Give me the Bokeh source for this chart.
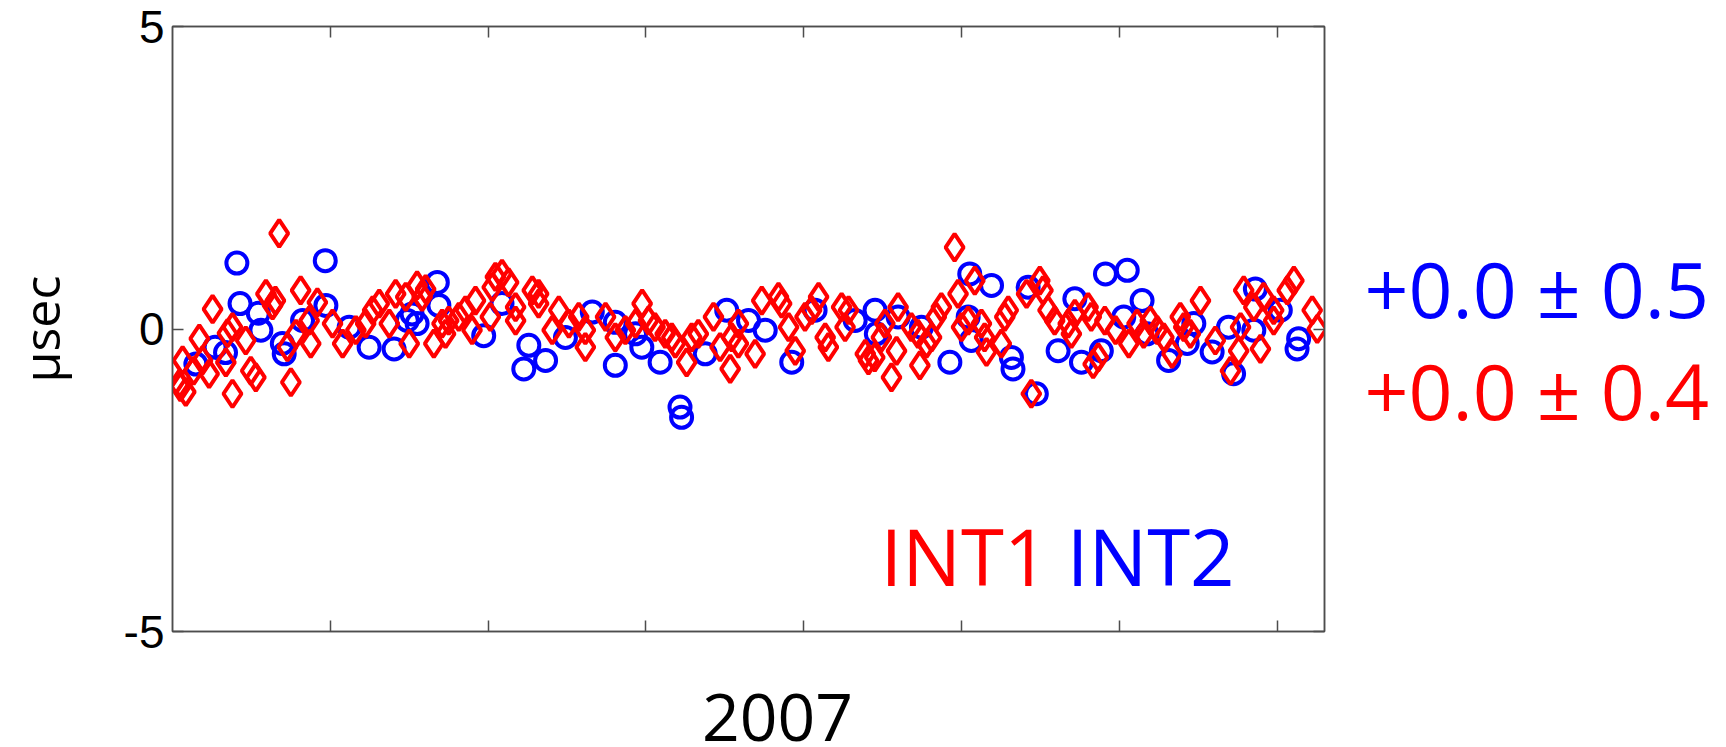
from bokeh.plotting import figure
from bokeh.models import LinearAxis, FixedTicker, Label, Range1d
from bokeh.layouts import row, column
from bokeh.embed import file_html
from bokeh.resources import INLINE

# ---- data (day of year 2007, offset in microseconds) ----
int2_day = [7.4, 13.5, 16.8, 20.4, 21.4, 27.2, 28.0, 34.8, 35.4, 41.2,
            48.4, 48.6, 56.0, 62.3, 70.2, 74.4, 75.9, 77.5, 83.9, 84.4,
            98.6, 104.4, 111.3, 112.9, 118.2, 124.5, 133.0, 140.3, 140.3, 146.7,
            148.7, 154.5, 160.8, 161.3, 168.8, 175.6, 182.5, 187.8, 196.2, 203.6,
            216.3, 222.6, 223.0, 229.9, 237.3, 246.3, 252.1, 252.6, 253.1, 259.5,
            265.8, 266.3, 271.1, 273.7, 280.6, 285.9, 288.0, 294.3, 295.6, 301.4,
            302.5, 307.2, 308.8, 315.6, 321.5, 323.6, 329.4, 334.6, 336.2, 342.6,
            343.1, 351.0, 356.3, 356.8]
int2_val = [-0.58, -0.30, -0.39, 1.09, 0.42, 0.26, -0.02, -0.24, -0.41, 0.14,
            1.13, 0.39, 0.03, -0.30, -0.33, 0.14, 0.25, 0.09, 0.77, 0.39,
            -0.11, 0.42, -0.66, -0.27, -0.52, -0.14, 0.28, 0.11, -0.60, -0.08,
            -0.30, -0.55, -1.29, -1.46, -0.41, 0.31, 0.14, -0.02, -0.55, 0.31,
            0.14, 0.31, -0.08, 0.20, 0.03, -0.55, 0.20, 0.91, -0.19, 0.72,
            -0.47, -0.66, 0.69, -1.07, -0.36, 0.50, -0.55, -0.36, 0.91, 0.20,
            0.97, 0.47, -0.08, -0.52, -0.24, 0.09, -0.38, 0.03, -0.74, -0.02,
            0.66, 0.31, -0.33, -0.16]

int1_day = [2.1, 2.5, 3.2, 4.2, 6.7, 8.5, 9.5, 11.6, 12.7, 16.9,
            17.4, 19.0, 19.0, 23.2, 24.8, 26.4, 29.6, 31.7, 32.6, 33.8,
            36.4, 37.5, 39.1, 40.6, 43.3, 43.8, 45.9, 50.7, 53.9, 58.1,
            61.2, 63.4, 65.5, 68.7, 70.7, 73.9, 75.0, 77.5, 79.1, 80.2,
            82.8, 85.4, 86.5, 87.5, 90.7, 92.8, 94.9, 96.0, 100.7, 101.3,
            102.3, 104.4, 106.5, 108.7, 108.7, 114.0, 116.0, 116.0, 120.3, 122.4,
            125.6, 128.7, 130.8, 130.8, 137.2, 140.3, 143.5, 146.7, 148.8, 150.8,
            152.9, 156.1, 158.2, 159.3, 162.9, 164.5, 166.6, 171.4, 173.5, 176.7,
            177.2, 179.3, 179.3, 184.6, 186.7, 192.0, 193.0, 195.2, 197.3, 200.4,
            202.5, 204.7, 206.8, 207.8, 212.0, 213.1, 214.2, 219.5, 220.5, 222.5,
            224.6, 225.7, 227.8, 229.4, 229.9, 234.1, 236.2, 236.8, 238.9, 240.5,
            242.0, 243.6, 247.8, 248.9, 250.0, 252.1, 254.2, 256.3, 257.3, 257.9,
            262.6, 263.7, 264.8, 270.6, 272.1, 274.8, 275.8, 277.4, 279.5, 283.8,
            284.8, 285.9, 290.1, 291.1, 291.7, 293.3, 295.4, 298.8, 303.0, 305.6,
            307.7, 309.8, 312.0, 314.1, 316.7, 319.3, 320.4, 322.5, 325.7, 330.4,
            335.2, 337.8, 338.4, 339.4, 342.6, 344.7, 345.7, 348.9, 348.9, 353.2,
            355.3, 361.1, 362.7]
int1_val = [-0.91, -0.96, -0.52, -1.04, -0.69, -0.16, -0.52, -0.74, 0.33, -0.55,
            -0.07, 0.03, -1.07, -0.19, -0.69, -0.80, 0.58, 0.39, 0.47, 1.58,
            -0.30, -0.88, -0.08, 0.64, 0.14, -0.24, 0.44, 0.09, -0.24, -0.02,
            0.09, 0.31, 0.42, 0.09, 0.58, 0.53, -0.24, 0.72, 0.53, 0.66,
            -0.24, 0.09, -0.08, 0.14, 0.20, 0.31, -0.02, 0.47, 0.20, 0.69,
            0.86, 0.91, 0.77, 0.36, 0.14, 0.64, 0.58, 0.42, -0.02, 0.31,
            0.09, 0.20, -0.02, -0.30, 0.20, -0.14, -0.02, 0.09, 0.42, 0.14,
            0.03, -0.08, -0.14, -0.24, -0.55, -0.14, -0.08, 0.20, -0.30, -0.66,
            -0.14, 0.09, -0.24, -0.41, 0.47, 0.53, 0.42, 0.03, -0.36, 0.20,
            0.31, 0.53, -0.14, -0.30, 0.36, 0.03, 0.31, -0.41, -0.52, -0.47,
            -0.14, 0.09, -0.80, -0.36, 0.36, 0.03, -0.08, -0.60, -0.24, -0.14,
            0.20, 0.36, 1.35, 0.58, 0.03, 0.14, 0.80, 0.09, -0.14, -0.38,
            -0.24, 0.20, 0.31, 0.58, -1.07, 0.80, 0.64, 0.31, 0.14, 0.09,
            -0.08, 0.25, 0.36, 0.20, -0.58, -0.47, 0.14, -0.02, -0.24, 0.09,
            -0.08, 0.14, -0.02, -0.14, -0.41, 0.20, 0.03, -0.08, 0.47, -0.19,
            -0.69, -0.36, 0.03, 0.64, 0.36, -0.33, 0.53, 0.31, 0.14, 0.64,
            0.80, 0.31, 0.00]

y_tick_values = [-5, 0, 5]
y_tick_labels = ["-5", "0", "5"]
x_tick_values = [50, 100, 150, 200, 250, 300, 350]
x_title = "2007"
y_title = "\u03bcsec"
stat_int2 = "+0.0 \u00b1 0.5"
stat_int1 = "+0.0 \u00b1 0.4"

FRAME = "#4d4d4d"
BLUE = "#0000ff"
RED = "#ff0000"
TEXT_FONT = "Open Sans"

TOP_H = 664
yr = Range1d(-5, 5)
p = figure(width=1340, height=TOP_H, x_range=Range1d(0, 365), y_range=yr,
           output_backend="svg", toolbar_location=None,
           x_axis_location=None, y_axis_location=None,
           min_border_left=172, min_border_right=16,
           min_border_top=26, min_border_bottom=TOP_H - 631)
p.background_fill_color = "white"
p.border_fill_color = "white"
p.outline_line_color = FRAME
p.outline_line_width = 1.5
p.xgrid.visible = False
p.ygrid.visible = False


def style_axis(ax, ticks, show_labels):
    ax.ticker = FixedTicker(ticks=ticks)
    ax.axis_line_color = FRAME
    ax.axis_line_width = 1.5
    ax.major_tick_line_color = FRAME
    ax.major_tick_line_width = 1.5
    ax.major_tick_in = 11
    ax.major_tick_out = 0
    ax.minor_tick_line_color = None
    if not show_labels:
        ax.major_label_text_color = None
        ax.major_label_text_font_size = "1px"
        ax.major_label_standoff = 0


left = LinearAxis()
style_axis(left, y_tick_values, True)
left.major_label_overrides = {v: s for v, s in zip(y_tick_values, y_tick_labels)}
left.major_label_text_font = "Liberation Sans"
left.major_label_text_font_size = "46px"
left.major_label_text_color = "black"
left.major_label_standoff = 8
left.axis_label = y_title
left.axis_label_text_font = TEXT_FONT
left.axis_label_text_font_size = "50px"
left.axis_label_text_font_style = "normal"
left.axis_label_text_color = "black"
left.axis_label_standoff = 46
p.add_layout(left, "left")

right = LinearAxis()
style_axis(right, y_tick_values, False)
p.add_layout(right, "right")

bottom = LinearAxis()
style_axis(bottom, x_tick_values, False)
p.add_layout(bottom, "below")

top = LinearAxis()
style_axis(top, x_tick_values, False)
p.add_layout(top, "above")

# markers
p.scatter(int2_day, int2_val, marker="circle", size=21, fill_color=None,
          line_color=BLUE, line_width=4)
p.scatter(int1_day, int1_val, marker="diamond", size=27, fill_color=None,
          line_color=RED, line_width=4)

# in-frame legend words
p.add_layout(Label(x=224.3, y=-3.76, text="INT1", text_color=RED,
                   text_font=TEXT_FONT, text_font_size="78px",
                   text_baseline="alphabetic", text_align="left"))
p.add_layout(Label(x=283.3, y=-3.76, text="INT2", text_color=BLUE,
                   text_font=TEXT_FONT, text_font_size="78px",
                   text_baseline="alphabetic", text_align="left"))


def text_panel(w, h, y_range):
    f = figure(width=w, height=h, x_range=Range1d(0, w), y_range=y_range,
               output_backend="svg", toolbar_location=None,
               x_axis_location=None, y_axis_location=None, min_border=0)
    f.outline_line_color = None
    f.background_fill_color = "white"
    f.border_fill_color = "white"
    f.xgrid.visible = False
    f.ygrid.visible = False
    return f


# right-hand panel with the statistics (shares the main y range)
p2 = text_panel(386, TOP_H, yr)
p2.add_layout(Label(x=24, y=0.67, text=stat_int2, text_color=BLUE,
                    text_font=TEXT_FONT, text_font_size="77px",
                    text_baseline="alphabetic", text_align="left"))
p2.add_layout(Label(x=24, y=-1.02, text=stat_int1, text_color=RED,
                    text_font=TEXT_FONT, text_font_size="77px",
                    text_baseline="alphabetic", text_align="left"))

# bottom strip with the year (pixel coordinates, y up)
BOT_H = 747 - TOP_H
p3 = text_panel(1726, BOT_H, Range1d(0, BOT_H))
p3.add_layout(Label(x=777, y=30, text=x_title, text_color="black",
                    text_font=TEXT_FONT, text_font_size="66px",
                    text_baseline="alphabetic", text_align="center"))

layout = column(row(p, p2), p3)
open("out.html", "w").write(file_html(layout, INLINE))
